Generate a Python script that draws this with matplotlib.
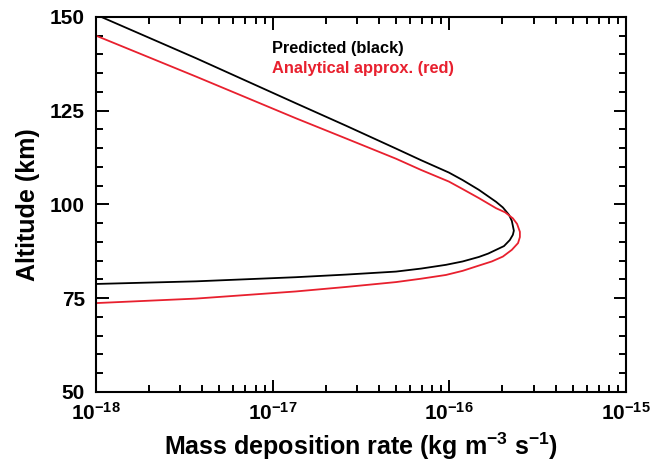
import matplotlib
matplotlib.use("Agg")
from matplotlib import pyplot as plt
from matplotlib.ticker import FixedLocator, LogLocator, MultipleLocator, NullFormatter

plt.rcParams['font.family'] = ['Liberation Sans', 'DejaVu Sans']
plt.rcParams['font.weight'] = 'bold'
plt.rcParams['axes.labelweight'] = 'bold'
plt.rcParams['mathtext.fontset'] = 'custom'
plt.rcParams['mathtext.rm'] = 'Liberation Sans:bold'
plt.rcParams['mathtext.bf'] = 'Liberation Sans:bold'
plt.rcParams['mathtext.it'] = 'Liberation Sans:bold'

# predicted profile (black)
pred_rate = [1.0e-18, 3.68e-18, 1.35e-17, 2.60e-17, 4.99e-17, 6.92e-17, 9.95e-17,
             1.19e-16, 1.47e-16, 1.84e-16, 2.01e-16, 2.18e-16, 2.26e-16, 2.32e-16,
             2.29e-16, 2.20e-16, 2.04e-16, 1.84e-16, 1.66e-16, 1.47e-16, 1.19e-16,
             9.57e-17, 6.92e-17, 4.99e-17, 2.60e-17, 1.35e-17, 3.68e-18, 1.0e-18]
pred_alt = [150.6, 139.0, 127.0, 121.0, 114.9, 111.8, 108.5,
            106.5, 103.9, 100.7, 99.2, 97.2, 95.6, 93.0,
            91.9, 90.5, 88.9, 87.9, 86.9, 86.0, 84.8,
            83.9, 82.9, 82.1, 81.3, 80.6, 79.5, 78.8]

# analytical approximation (red)
anal_rate = [1.0e-18, 3.68e-18, 1.35e-17, 2.60e-17, 4.99e-17, 6.92e-17, 9.95e-17,
             1.19e-16, 1.47e-16, 1.84e-16, 2.07e-16, 2.29e-16, 2.42e-16, 2.51e-16,
             2.51e-16, 2.45e-16, 2.26e-16, 2.01e-16, 1.74e-16, 1.47e-16, 1.19e-16,
             9.57e-17, 6.92e-17, 4.99e-17, 2.60e-17, 1.35e-17, 3.68e-18, 1.0e-18]
anal_alt = [145.0, 134.1, 123.0, 117.6, 112.2, 109.2, 106.1,
            104.1, 101.7, 99.0, 97.9, 96.3, 94.8, 92.7,
            91.3, 89.7, 87.9, 86.1, 84.8, 83.7, 82.3,
            81.2, 80.2, 79.3, 78.0, 76.8, 74.9, 73.7]

xticks = [1e-18, 1e-17, 1e-16, 1e-15]
xlabels = [r'$10^{-18}$', r'$10^{-17}$', r'$10^{-16}$', r'$10^{-15}$']
yticks = [50, 75, 100, 125, 150]

fig = plt.figure(figsize=(6.51, 4.70), dpi=100)
ax = fig.add_axes([0.1475, 0.166, 0.814, 0.798])

ax.plot(pred_rate, pred_alt, color='black', lw=1.3, solid_joinstyle='round')
ax.plot(anal_rate, anal_alt, color='#e8202e', lw=1.3, solid_joinstyle='round')

ax.set_xscale('log')
ax.set_xlim(1e-18, 1e-15)
ax.set_ylim(50, 150)
ax.xaxis.set_major_locator(FixedLocator(xticks))
ax.set_xticklabels(xlabels)
ax.xaxis.set_minor_locator(LogLocator(base=10, subs=range(2, 10)))
ax.xaxis.set_minor_formatter(NullFormatter())
ax.yaxis.set_major_locator(FixedLocator(yticks))
ax.yaxis.set_minor_locator(MultipleLocator(5))

ax.tick_params(which='both', direction='in', top=True, right=True, width=1.4)
ax.tick_params(which='major', length=9, labelsize=15)
ax.tick_params(axis='y', which='major', pad=8)
ax.tick_params(axis='x', which='major', pad=7)
ax.tick_params(which='minor', length=5)
for s in ax.spines.values():
    s.set_linewidth(1.5)

ax.set_xlabel(r'Mass deposition rate (kg m$^{-3}$ s$^{-1}$)', fontsize=18, labelpad=5)
ax.set_ylabel('Altitude (km)', fontsize=18, labelpad=7)

ax.text(0.332, 0.917, 'Predicted (black)', transform=ax.transAxes, fontsize=11.8,
        color='black', va='center')
ax.text(0.332, 0.862, 'Analytical approx. (red)', transform=ax.transAxes, fontsize=11.8,
        color='#e8202e', va='center')

fig.savefig('out.png', dpi=100)
